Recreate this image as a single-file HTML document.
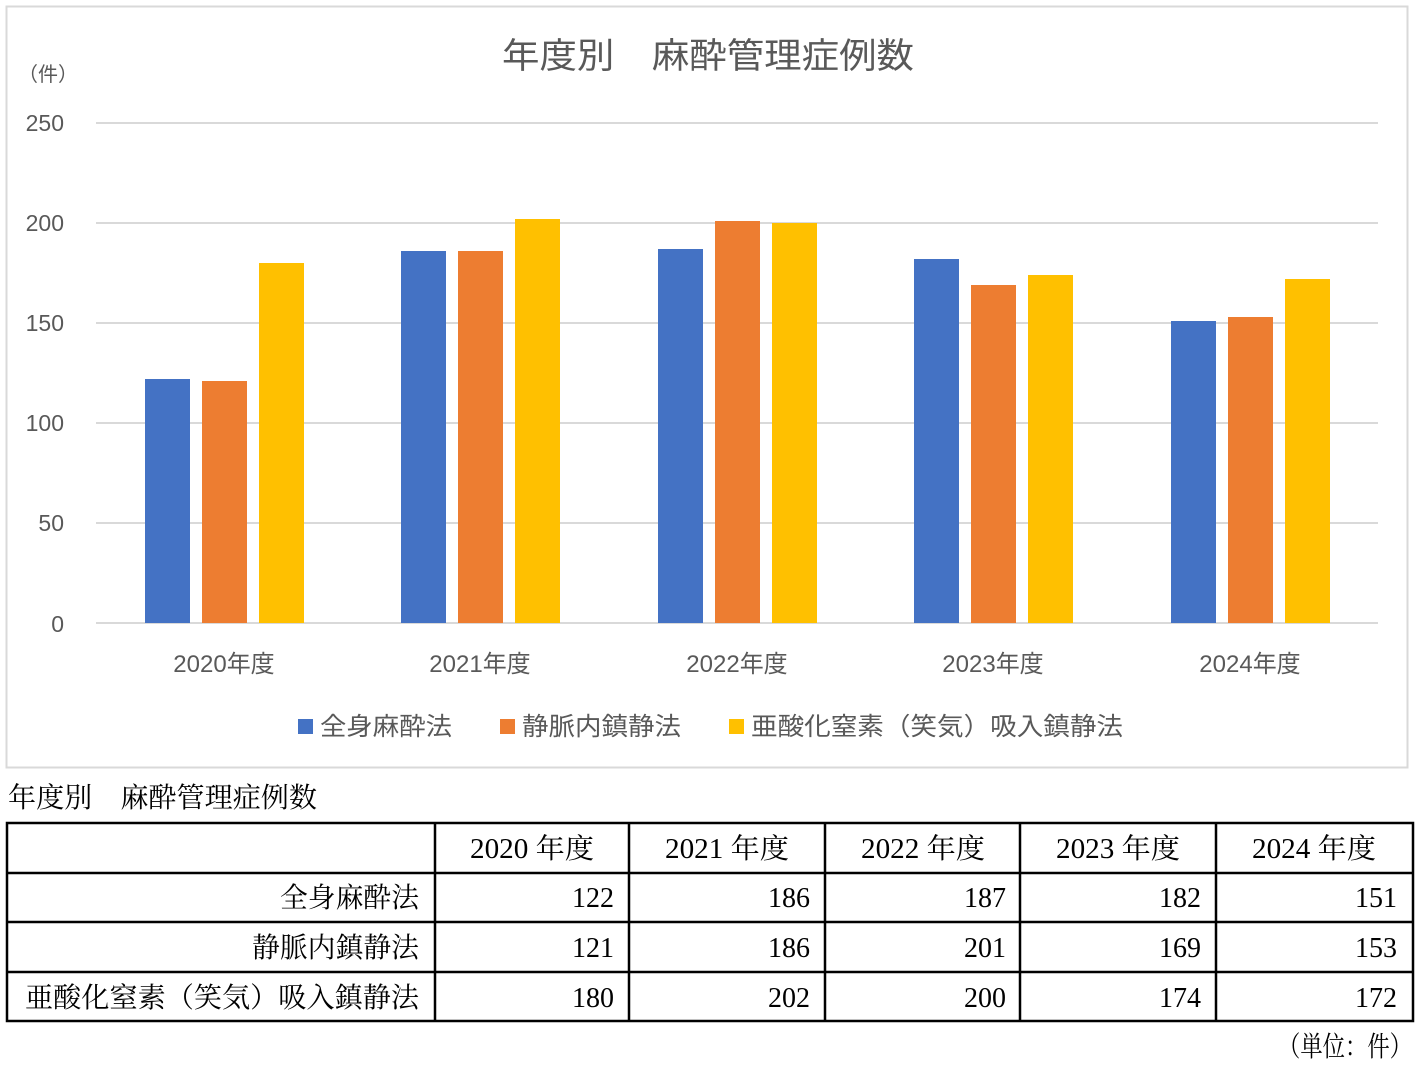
<!DOCTYPE html>
<html><head><meta charset="utf-8"><style>
html,body{margin:0;padding:0;background:#fff;width:1420px;height:1070px;overflow:hidden}
svg{display:block}
.s{font-family:"Liberation Sans","Noto Sans CJK JP",sans-serif;fill:#595959}
.r{font-family:"Liberation Serif","Noto Serif CJK SC",serif;fill:#000}
</style></head><body>
<svg width="1420" height="1070" viewBox="0 0 1420 1070">
<rect x="6.5" y="6.5" width="1401" height="761" fill="#fff" stroke="#d9d9d9" stroke-width="2"/>
<text class="s" x="502" y="68" font-size="35" textLength="412" lengthAdjust="spacingAndGlyphs">年度別　麻酔管理症例数</text>
<text class="s" x="48" y="81" font-size="20" text-anchor="middle">（件）</text>
<g stroke="#d9d9d9" stroke-width="2">
<line x1="96" y1="123" x2="1378" y2="123"/>
<line x1="96" y1="223" x2="1378" y2="223"/>
<line x1="96" y1="323" x2="1378" y2="323"/>
<line x1="96" y1="423" x2="1378" y2="423"/>
<line x1="96" y1="523" x2="1378" y2="523"/>
<line x1="96" y1="623" x2="1378" y2="623"/>
</g>
<g class="s" font-size="23" text-anchor="end">
<text x="64" y="131">250</text><text x="64" y="231">200</text><text x="64" y="331">150</text>
<text x="64" y="431">100</text><text x="64" y="531">50</text><text x="64" y="632">0</text>
</g>
<g>
<rect x="145" y="379" width="45" height="244" fill="#4472c4"/>
<rect x="202" y="381" width="45" height="242" fill="#ed7d31"/>
<rect x="259" y="263" width="45" height="360" fill="#ffc000"/>
<rect x="401" y="251" width="45" height="372" fill="#4472c4"/>
<rect x="458" y="251" width="45" height="372" fill="#ed7d31"/>
<rect x="515" y="219" width="45" height="404" fill="#ffc000"/>
<rect x="658" y="249" width="45" height="374" fill="#4472c4"/>
<rect x="715" y="221" width="45" height="402" fill="#ed7d31"/>
<rect x="772" y="223" width="45" height="400" fill="#ffc000"/>
<rect x="914" y="259" width="45" height="364" fill="#4472c4"/>
<rect x="971" y="285" width="45" height="338" fill="#ed7d31"/>
<rect x="1028" y="275" width="45" height="348" fill="#ffc000"/>
<rect x="1171" y="321" width="45" height="302" fill="#4472c4"/>
<rect x="1228" y="317" width="45" height="306" fill="#ed7d31"/>
<rect x="1285" y="279" width="45" height="344" fill="#ffc000"/>
</g>
<g class="s" font-size="24" text-anchor="middle">
<text x="224" y="672">2020年度</text><text x="480" y="672">2021年度</text><text x="737" y="672">2022年度</text>
<text x="993" y="672">2023年度</text><text x="1250" y="672">2024年度</text>
</g>
<rect x="298" y="719" width="15" height="15" fill="#4472c4"/>
<text class="s" x="320" y="735" font-size="25" textLength="132" lengthAdjust="spacingAndGlyphs">全身麻酔法</text>
<rect x="500" y="719" width="15" height="15" fill="#ed7d31"/>
<text class="s" x="522" y="735" font-size="25" textLength="159" lengthAdjust="spacingAndGlyphs">静脈内鎮静法</text>
<rect x="729" y="719" width="15" height="15" fill="#ffc000"/>
<text class="s" x="751" y="735" font-size="25" textLength="372" lengthAdjust="spacingAndGlyphs">亜酸化窒素（笑気）吸入鎮静法</text>

<text class="r" x="8" y="807" font-size="28" textLength="309" lengthAdjust="spacingAndGlyphs">年度別　麻酔管理症例数</text>
<g stroke="#000" stroke-width="2.5" fill="none">
<rect x="7" y="823" width="1406" height="198"/>
<line x1="7" y1="873" x2="1413" y2="873"/>
<line x1="7" y1="922" x2="1413" y2="922"/>
<line x1="7" y1="972" x2="1413" y2="972"/>
<line x1="435" y1="823" x2="435" y2="1021"/>
<line x1="629" y1="823" x2="629" y2="1021"/>
<line x1="825" y1="823" x2="825" y2="1021"/>
<line x1="1020" y1="823" x2="1020" y2="1021"/>
<line x1="1216" y1="823" x2="1216" y2="1021"/>
</g>
<g class="r" font-size="28">
<text x="470" y="858" textLength="124" lengthAdjust="spacingAndGlyphs">2020 年度</text>
<text x="665" y="858" textLength="124" lengthAdjust="spacingAndGlyphs">2021 年度</text>
<text x="861" y="858" textLength="124" lengthAdjust="spacingAndGlyphs">2022 年度</text>
<text x="1056" y="858" textLength="124" lengthAdjust="spacingAndGlyphs">2023 年度</text>
<text x="1252" y="858" textLength="124" lengthAdjust="spacingAndGlyphs">2024 年度</text>
<text x="280" y="907" textLength="139" lengthAdjust="spacingAndGlyphs">全身麻酔法</text>
<text x="252" y="957" textLength="167" lengthAdjust="spacingAndGlyphs">静脈内鎮静法</text>
<text x="25" y="1007" textLength="394" lengthAdjust="spacingAndGlyphs">亜酸化窒素（笑気）吸入鎮静法</text>
<text x="1278" y="1056" textLength="134" lengthAdjust="spacingAndGlyphs">（単位：件）</text>
</g>
<g class="r" font-size="28" text-anchor="end">
<text x="614" y="907">122</text><text x="810" y="907">186</text><text x="1006" y="907">187</text><text x="1201" y="907">182</text><text x="1397" y="907">151</text>
<text x="614" y="957">121</text><text x="810" y="957">186</text><text x="1006" y="957">201</text><text x="1201" y="957">169</text><text x="1397" y="957">153</text>
<text x="614" y="1007">180</text><text x="810" y="1007">202</text><text x="1006" y="1007">200</text><text x="1201" y="1007">174</text><text x="1397" y="1007">172</text>
</g>
</svg>
</body></html>
